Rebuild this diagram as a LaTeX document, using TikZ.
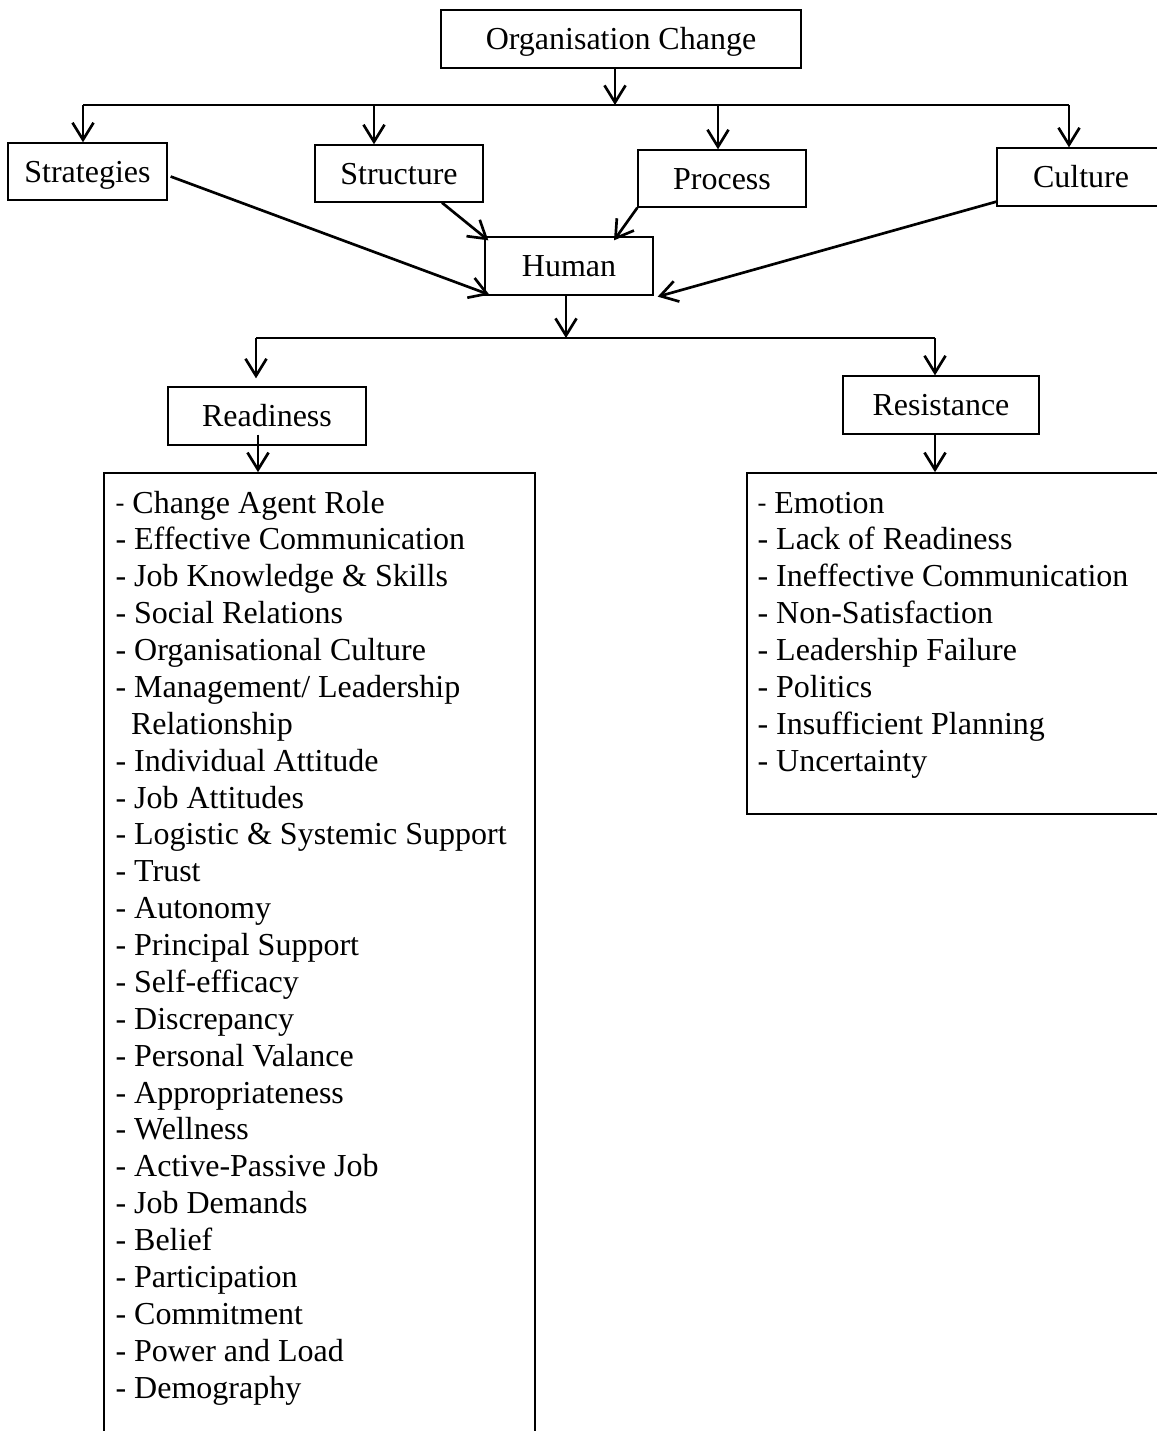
\documentclass[tikz,border=0pt]{standalone}
\usepackage{fontspec}
\setmainfont{Liberation Serif}
\usetikzlibrary{arrows.meta,calc}

\newcommand{\smalldash}{\raisebox{0.6pt}{\fontsize{10pt}{11pt}\selectfont -}}

\begin{document}
\begin{tikzpicture}[x=0.375pt,y=-0.375pt,
  every node/.style={font=\fontsize{12pt}{13.8pt}\selectfont},
  box/.style={draw, line width=0.5pt, inner sep=0pt,
    text height=10pt, text depth=2.1pt, align=center},
  listbox/.style={draw, line width=0.6pt, inner sep=0pt},
  item/.style={anchor=base west, inner sep=0pt},
  line/.style={line width=1pt},
  conn/.style={line width=1pt, -{Straight Barb[length=6.4pt,width=7.9pt,line width=1pt]}}
]
\useasboundingbox (0,0) rectangle (1157,1431);
\clip (0,0) rectangle (1157,1431);

% top level
\node[box, minimum width=135pt, minimum height=21.75pt] (org) at (621,39) {Organisation Change};

% second level
\node[box, minimum width=59.6pt, minimum height=21.4pt] (strat)  at (87.5,171.5) {Strategies};
\node[box, minimum width=63pt,   minimum height=21.4pt] (struct) at (399,173.5)  {Structure};
\node[box, minimum width=63pt,   minimum height=21.4pt] (proc)   at (722,178.5)  {Process};
\node[box, minimum width=63pt,   minimum height=21.75pt] (cult)  at (1081,177)   {Culture};

% centre
\node[box, minimum width=63pt, minimum height=21.75pt] (human) at (569,266) {Human};

% third level
\node[box, minimum width=74.25pt, minimum height=21.75pt] (ready)  at (267,416) {Readiness};
\node[box, minimum width=73.5pt,  minimum height=21.75pt] (resist) at (941,405) {Resistance};

% factor lists
\node[listbox, minimum width=161.6pt, minimum height=366.4pt] (rlist) at (319.5,961.5) {};
\node[listbox, minimum width=158.6pt, minimum height=127.9pt] (slist) at (958.5,643.5) {};

% first branching
\coordinate (bO) at (615,105);
\coordinate (bL) at (83,105);
\coordinate (bS) at (374,105);
\coordinate (bP) at (718,105);
\coordinate (bR) at (1069,105);
\draw[conn] ($(org.south)+(-6,0)$) -- (bO);
\draw[line] (bL) -- (bR);
\draw[conn] (bL) -- (bL |- strat.north);
\draw[conn] (bS) -- (bS |- struct.north);
\draw[conn] (bP) -- (bP |- proc.north);
\draw[conn] (bR) -- (bR |- cult.north);

% converging on Human
\draw[conn] ($(strat.east)+(3,5)$) -- ($(human.south west)+(5,-1)$);
\draw[conn] ($(struct.south)+(43,0)$) -- ($(human.north west)+(4,4)$);
\draw[conn] (proc.south west) -- ($(human.north)+(45,4)$);
\draw[conn] ($(cult.south west)+(0,-5)$) -- ($(human.south east)+(4,1)$);

% second branching
\coordinate (bH) at (566,338);
\coordinate (cL) at (256,338);
\coordinate (cR) at (935,338);
\draw[conn] ($(human.south)+(-3,0)$) -- (bH);
\draw[line] (cL) -- (cR);
\draw[conn] (cL) -- ($(cL |- ready.north)+(0,-8)$);
\draw[conn] (cR) -- (cR |- resist.north);

% into the lists
\draw[conn] ($(ready.south)+(-9,-11)$) coordinate (rs) -- (rs |- rlist.north);
\draw[conn] ($(resist.south)+(-6,0)$) coordinate (ss) -- (ss |- slist.north);

% readiness factors
\node[item] (r1) at (115,513) {\smalldash\ Change Agent Role};
\foreach \t [count=\i from 2] in {
  - Effective Communication,
  - Job Knowledge \& Skills,
  - Social Relations,
  - Organisational Culture,
  - Management/ Leadership,
  \hspace*{5.8pt}Relationship,
  - Individual Attitude,
  - Job Attitudes,
  - Logistic \& Systemic Support,
  - Trust,
  - Autonomy,
  - Principal Support,
  - Self-efficacy,
  - Discrepancy,
  - Personal Valance,
  - Appropriateness,
  - Wellness,
  - Active-Passive Job,
  - Job Demands,
  - Belief,
  - Participation,
  - Commitment,
  - Power and Load,
  - Demography}
  \node[item] (r\i) at (115,{513+36.875*(\i-1)}) {\t};

% resistance factors
\node[item] (s1) at (757,513) {\smalldash\ Emotion};
\foreach \t [count=\i from 2] in {
  - Lack of Readiness,
  - Ineffective Communication,
  - Non-Satisfaction,
  - Leadership Failure,
  - Politics,
  - Insufficient Planning,
  - Uncertainty}
  \node[item] (s\i) at (757,{513+36.875*(\i-1)}) {\t};
\end{tikzpicture}
\end{document}
